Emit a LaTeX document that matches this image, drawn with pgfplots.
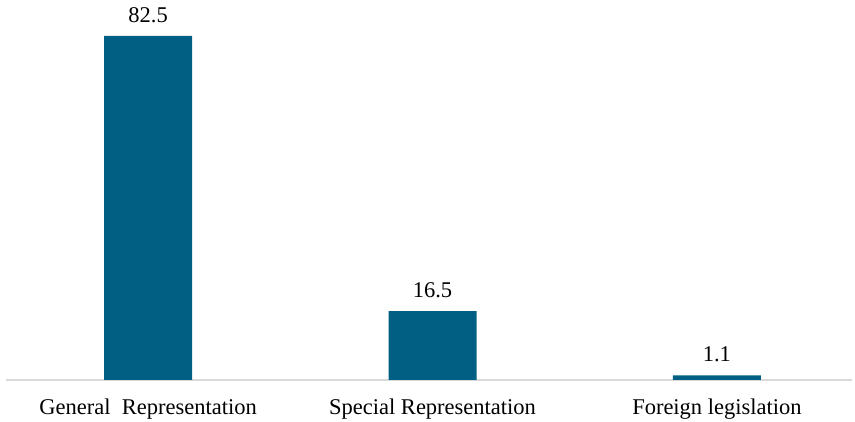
\documentclass[border=0pt]{standalone}
\usepackage{pgfplots}
\pgfplotsset{compat=1.18}
\usepackage{fontspec}
\setmainfont{Liberation Serif}
\definecolor{barblue}{HTML}{005F83}
\definecolor{axisgray}{HTML}{D9D9D9}
\begin{document}
\begin{tikzpicture}
\begin{axis}[
  at={(6pt,0pt)}, anchor=south west,
  scale only axis,
  width=846pt, height=380pt,
  xmin=-0.5, xmax=2.475,
  ymin=0, ymax=91.13,
  axis y line=none,
  axis x line*=bottom,
  x axis line style={axisgray, line width=1.2pt, -},
  xtick=data,
  xticklabels={General~ Representation, Special Representation, Foreign legislation},
  xtick style={draw=none},
  xticklabel style={font=\fontsize{22.5}{26}\selectfont, yshift=-11pt},
  ybar, bar width=88pt,
  clip=false,
  nodes near coords,
  every node near coord/.append style={font=\fontsize{22.5}{26}\selectfont, text=black, yshift=10pt},
  /pgf/number format/.cd, fixed, fixed zerofill, precision=1, assume math mode=true,
]
\addplot[fill=barblue, draw=none] coordinates {(0,82.5) (1,16.5) (2,1.1)};
\end{axis}
\pgfresetboundingbox
\path[use as bounding box] (0pt,-42pt) rectangle (855pt,380pt);
\end{tikzpicture}
\end{document}
